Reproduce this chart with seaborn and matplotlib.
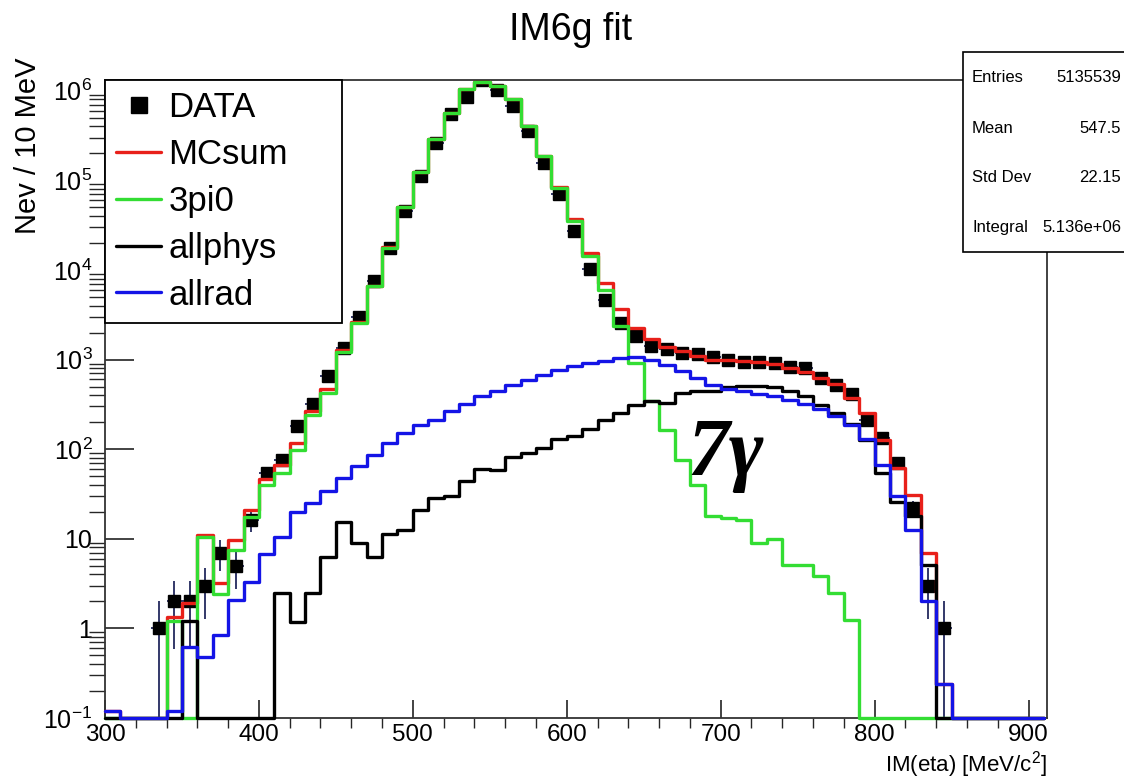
import numpy as np
import matplotlib
matplotlib.use('Agg')
import matplotlib.pyplot as plt
from matplotlib.lines import Line2D
from matplotlib.patches import Rectangle
from matplotlib.ticker import LogLocator, NullFormatter, MultipleLocator
import seaborn as sns

# 10 MeV bins from 300 to 910 MeV
bin_edges = list(range(300, 911, 10))
bin_centers = np.array(bin_edges[:-1]) + 5

data_counts = [0, 0, 0, 1, 2, 2, 3, 7, 5, 16,
               54, 76, 180, 322, 660, 1350, 3000, 7600, 17800, 45000,
               111000, 264000, 546000, 861000, 1330000, 1020000, 676000, 356000, 158000, 69800,
               27200, 10300, 4600, 2570, 1850, 1410, 1320, 1190, 1140, 1070,
               1000, 940, 940, 920, 830, 810, 620, 525, 417, 213,
               133, 70, 22, 3, 1, 0, 0, 0, 0, 0, 0]

mc_sum = [0.12, 0, 0, 0, 1.35, 1.9, 10.9, 3.25, 9.7, 21,
          46.8, 67, 118, 270, 465, 1263, 2644, 6683, 17830, 50660,
          124200, 293200, 570300, 1040400, 1260400, 1130500, 803600, 405700, 186800, 83700,
          36600, 15600, 7100, 3680, 2280, 1680, 1373, 1241, 1107, 986,
          984, 962, 929, 895, 805, 730, 620, 540, 373, 253,
          128, 62, 31, 6.9, 0.24, 0, 0, 0, 0, 0, 0]

mc_3pi0 = [0, 0, 0, 0, 1.2, 0, 10.4, 2.4, 7.5, 17.7,
           40, 54, 97, 243, 425, 1200, 2570, 6590, 17700, 50500,
           124000, 293000, 570000, 1040000, 1260000, 1130000, 803000, 405000, 186000, 82800,
           35000, 14300, 6000, 2360, 918, 342, 165, 76, 40, 18,
           17, 16, 9, 10, 5.1, 5.1, 3.8, 2.5, 1.24, 0,
           0, 0, 0, 0, 0, 0, 0, 0, 0, 0, 0]

mc_allphys = [0, 0, 0, 0, 0, 1.22, 0, 0, 0, 0,
              0, 2.47, 1.19, 2.47, 6.3, 15.3, 9, 6.3, 11.4, 12.6,
              21, 28.5, 30, 44, 60, 58, 82, 91, 103, 130,
              139, 168, 214, 253, 314, 342, 328, 425, 443, 443,
              496, 503, 503, 496, 443, 389, 314, 253, 190, 125,
              54, 26, 18, 5.1, 0, 0, 0, 0, 0, 0, 0]

mc_allrad = [0.12, 0, 0, 0, 0.12, 0.62, 0.48, 0.85, 2.1, 3.3,
             6.8, 10.5, 20, 25, 34, 48, 65, 87, 117, 152,
             188, 214, 264, 322, 389, 443, 525, 598, 680, 770,
             850, 910, 957, 1045, 1070, 1000, 880, 740, 624, 525,
             471, 443, 417, 389, 357, 322, 281, 233, 188, 129,
             67, 30, 12.6, 2.0, 0.24, 0, 0, 0, 0, 0, 0]

x_ticks = [300, 400, 500, 600, 700, 800, 900]
y_ticks = [0.1, 1, 10, 1e2, 1e3, 1e4, 1e5, 1e6]
y_tick_labels = ['$10^{-1}$', '1', '10', '$10^{2}$', '$10^{3}$', '$10^{4}$', '$10^{5}$', '$10^{6}$']

stat_names = ['Entries', 'Mean', 'Std Dev', 'Integral']
stat_values = ['5135539', '547.5', '22.15', '5.136e+06']

sns.set_style('ticks')
plt.rcParams['font.family'] = ['Liberation Sans', 'DejaVu Sans']
plt.rcParams['mathtext.default'] = 'regular'
plt.rcParams['text.color'] = 'black'

fig = plt.figure(figsize=(11.24, 7.81), dpi=100)
ax = fig.add_axes([0.0934, 0.0807, 0.8381, 0.8169])
ax.set_yscale('log')
ymin = 0.1

# MC histograms (empty bins sit on the bottom of the frame, as in ROOT)
hists = [(mc_sum, '#e8201a'), (mc_3pi0, '#33dd33'),
         (mc_allphys, 'black'), (mc_allrad, '#1414e6')]
for vals, col in hists:
    sns.histplot(x=bin_centers, weights=np.clip(vals, ymin, None), bins=bin_edges,
                 element='step', fill=False, color=col, linewidth=2.4,
                 clip_on=False, zorder=3, ax=ax)

# data points with poisson errors
counts = np.array(data_counts, dtype=float)
has = counts > 0
ax.errorbar(bin_centers[has], counts[has], yerr=np.sqrt(counts[has]), xerr=5,
            fmt='s', color='black', ecolor='#23295e', elinewidth=1.3,
            ms=9, capsize=0, zorder=2)

ax.set_xlim(300, 912)
ax.set_ylim(ymin, 1.32e6)
ax.set_xlabel('')
ax.set_ylabel('')

ax.set_yticks(y_ticks, y_tick_labels)
ax.yaxis.set_minor_locator(LogLocator(base=10, subs=np.arange(2, 10)))
ax.yaxis.set_minor_formatter(NullFormatter())
ax.set_xticks(x_ticks)
ax.xaxis.set_minor_locator(MultipleLocator(20))
ax.tick_params(direction='in', top=False, right=False, labelsize=18,
               colors='#222222', labelcolor='black')
ax.tick_params(axis='y', which='major', length=21, width=1.2, pad=9)
ax.tick_params(axis='y', which='minor', length=11.5, width=1.0)
ax.tick_params(axis='x', which='major', length=13, width=1.2, pad=4, labelsize=17.5)
ax.tick_params(axis='x', which='minor', length=7, width=1.0)
for s in ax.spines.values():
    s.set_color('#333333')
    s.set_linewidth(1.3)

handles = [Line2D([], [], marker='s', ls='none', color='black', ms=11)]
for vals, col in hists:
    handles.append(Line2D([], [], color=col, lw=2.4))
leg = ax.legend(handles, ['DATA', 'MCsum', '3pi0', 'allphys', 'allrad'],
                loc='upper left', bbox_to_anchor=(0, 0, 0.2516, 1), mode='expand',
                borderaxespad=0, fontsize=25, frameon=True, fancybox=False,
                edgecolor='black', framealpha=1, handlelength=1.3,
                handletextpad=0.2, labelspacing=0.4, borderpad=0.32)
leg.get_frame().set_linewidth(1.3)
leg.set_zorder(10)

fig.text(0.508, 0.962, 'IM6g fit', ha='center', va='center', size=27)
fig.text(28 / 1124, 1 - 58 / 781, 'Nev / 10 MeV', rotation=90, ha='center', va='top', size=21)
fig.text(0.9315, 0.001, 'IM(eta) [MeV/c$^{2}$]', ha='right', va='bottom', size=16)

fig.text(0.612, 0.392, '7γ', family=['Liberation Serif', 'DejaVu Serif'],
         weight='bold', style='italic', size=60, ha='left', va='baseline', color='black')

# stats box at the right edge
fig.add_artist(Rectangle((963 / 1124, (781 - 252) / 781), 0.16, 200 / 781,
                         transform=fig.transFigure, facecolor='white',
                         edgecolor='black', lw=1.2, zorder=20))
rows_y = [0.9014, 0.8361, 0.7721, 0.7093]
for name, val, yy in zip(stat_names, stat_values, rows_y):
    fig.text(0.8648, yy, name, size=12, va='center', zorder=21)
    fig.text(0.9975, yy, val, size=12, va='center', ha='right', zorder=21)

fig.savefig('out.png', dpi=100)
